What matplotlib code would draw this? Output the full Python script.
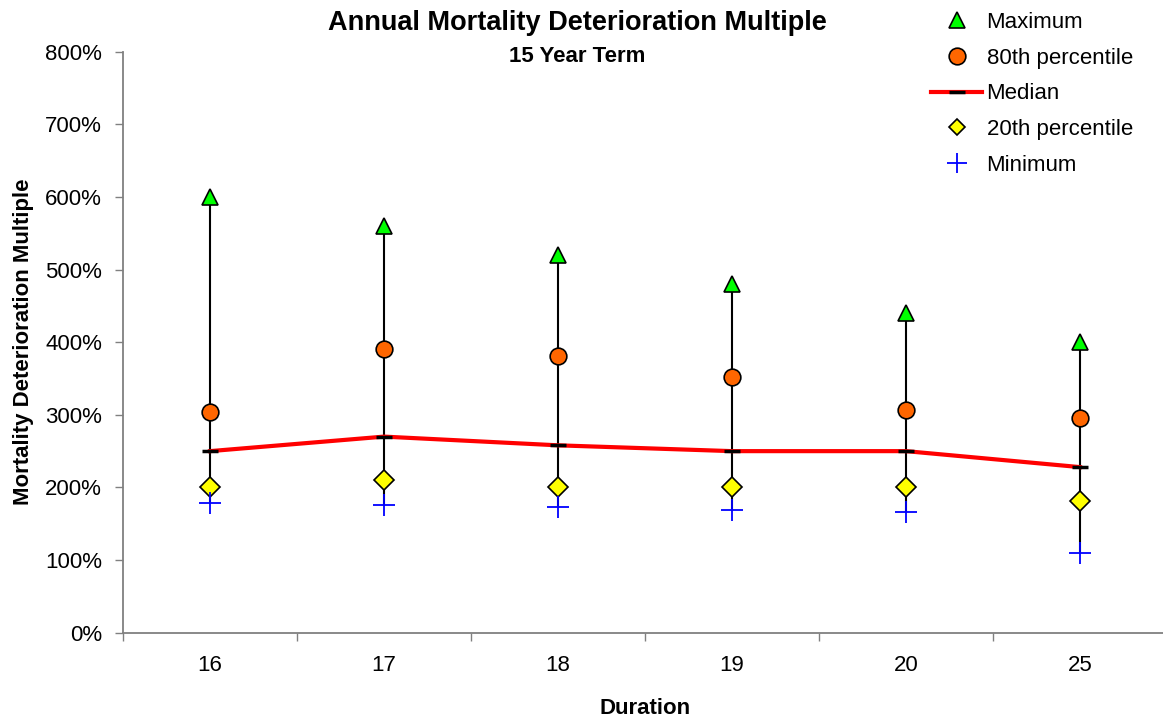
import numpy as np
import matplotlib
matplotlib.use("Agg")
import matplotlib.pyplot as plt
from matplotlib.lines import Line2D
from matplotlib.ticker import FuncFormatter

plt.rcParams['font.family'] = ['Liberation Sans', 'DejaVu Sans']

# --- Data (in %) ---
durations = ['16', '17', '18', '19', '20', '25']
maximum = [600, 560, 520, 480, 440, 400]
pct80 = [304, 390, 381, 352, 306, 295]
median = [250, 270, 258, 250, 250, 228]
pct20 = [200, 210, 200, 200, 200, 181]
minimum = [178, 176, 173, 169, 166, 110]

x = np.arange(len(durations))

fig = plt.figure(figsize=(11.63, 7.21), dpi=100)
ax = fig.add_axes([123 / 1163, 1 - 632.7 / 721, (1167 - 123) / 1163, (632.7 - 51.7) / 721])

# high-low lines
ax.vlines(x, minimum, maximum, color='black', linewidth=1.5, zorder=2)

# median line with dash markers
ax.plot(x, median, color='#FF0000', linewidth=3, zorder=3)
ax.plot(x, median, linestyle='none', marker='_', markersize=12,
        markeredgewidth=2.5, color='black', zorder=4)

ax.plot(x, maximum, linestyle='none', marker='^', markersize=11,
        markerfacecolor='#00FF00', markeredgecolor='black', markeredgewidth=1.2, zorder=5)
ax.plot(x, pct80, linestyle='none', marker='o', markersize=12,
        markerfacecolor='#FF6600', markeredgecolor='black', markeredgewidth=1.2, zorder=5)
ax.plot(x, pct20, linestyle='none', marker='D', markersize=10.5,
        markerfacecolor='#FFFF00', markeredgecolor='black', markeredgewidth=1.2, zorder=5)
ax.plot(x, minimum, linestyle='none', marker='+', markersize=16,
        markeredgewidth=1.3, color='#0000FF', zorder=6)

# axes styling
ax.set_xlim(-0.5, len(durations) - 0.5)
ax.set_ylim(0, 800)
ax.set_yticks(np.arange(0, 801, 100))
ax.yaxis.set_major_formatter(FuncFormatter(lambda v, p: f'{v:.0f}%'))
ax.set_xticks(x)
ax.set_xticklabels(durations)
ax.set_xticks(np.arange(-0.5, len(durations), 1), minor=True)
ax.tick_params(axis='x', which='major', length=0, pad=16, labelsize=16)
ax.tick_params(axis='x', which='minor', length=6, width=1, color='#808080', direction='out')
ax.tick_params(axis='y', length=6, width=1, color='#808080', direction='out', pad=9, labelsize=16)

for side in ['top', 'right']:
    ax.spines[side].set_visible(False)
for side in ['left', 'bottom']:
    ax.spines[side].set_color('#808080')
    ax.spines[side].set_linewidth(1.3)

ax.set_xlabel('Duration', fontsize=16, fontweight='bold', labelpad=16)
ax.set_ylabel('Mortality Deterioration Multiple', fontsize=16, fontweight='bold', labelpad=8)

fig.text(577 / 1163, 1 - 23 / 721, 'Annual Mortality Deterioration Multiple',
         ha='center', va='center', fontsize=19.5, fontweight='bold')
fig.text(577 / 1163, 1 - 57 / 721, '15 Year Term',
         ha='center', va='center', fontsize=16, fontweight='bold')

# legend
handles = [
    Line2D([], [], linestyle='none', marker='^', markersize=11,
           markerfacecolor='#00FF00', markeredgecolor='black', markeredgewidth=1.2),
    Line2D([], [], linestyle='none', marker='o', markersize=12,
           markerfacecolor='#FF6600', markeredgecolor='black', markeredgewidth=1.2),
    Line2D([], [], color='#FF0000', linewidth=3, marker='_', markersize=12,
           markeredgewidth=2.5, markeredgecolor='black'),
    Line2D([], [], linestyle='none', marker='D', markersize=8,
           markerfacecolor='#FFFF00', markeredgecolor='black', markeredgewidth=1.2),
    Line2D([], [], linestyle='none', marker='+', markersize=14,
           markeredgewidth=1.3, color='#0000FF'),
]
labels = ['Maximum', '80th percentile', 'Median', '20th percentile', 'Minimum']
fig.legend(handles, labels, loc='upper left', bbox_to_anchor=(931 / 1163, 1 - 12 / 721),
           frameon=False, fontsize=16, handlelength=2.3, handletextpad=0.2,
           labelspacing=0.66, borderpad=0, borderaxespad=0, markerscale=1)

fig.savefig('out.png', dpi=100)
